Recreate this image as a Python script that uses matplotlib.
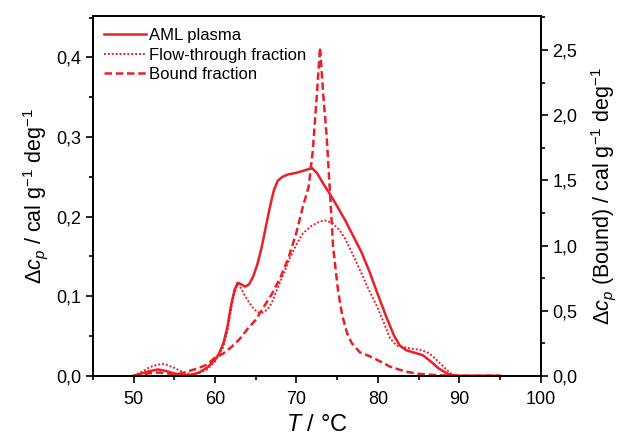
import numpy as np
import matplotlib
matplotlib.use("Agg")
from matplotlib import pyplot as plt
from matplotlib.ticker import MultipleLocator, FuncFormatter

plt.rcParams['font.family'] = ['Liberation Sans', 'DejaVu Sans']
plt.rcParams['mathtext.fontset'] = 'custom'
plt.rcParams['mathtext.rm'] = 'Liberation Sans'
plt.rcParams['mathtext.it'] = 'Liberation Sans:italic'

# AML plasma (left axis)
t_aml = [50, 51, 52, 53, 54, 55, 56, 57, 58, 59, 60, 60.5, 61, 61.5, 62, 62.4, 62.8,
         63.2, 63.7, 64.2, 64.7, 65.2, 65.7, 66.2, 66.7, 67.2, 67.7, 68.3, 69, 70, 71,
         71.9, 72.5, 73.2, 74, 75, 76, 77, 78, 79, 80, 81, 82, 82.7, 83.5, 84.5, 85.5,
         86.5, 87.5, 88.5, 89, 90, 92, 95]
cp_aml = [0, 0.003, 0.006, 0.008, 0.006, 0.003, 0.001, 0.001, 0.004, 0.01, 0.02, 0.028,
          0.04, 0.06, 0.09, 0.108, 0.117, 0.115, 0.112, 0.115, 0.125, 0.14, 0.16, 0.185,
          0.21, 0.232, 0.245, 0.25, 0.253, 0.255, 0.258, 0.261, 0.255, 0.243, 0.23, 0.213,
          0.195, 0.175, 0.155, 0.13, 0.102, 0.075, 0.05, 0.038, 0.032, 0.029, 0.026, 0.018,
          0.009, 0.003, 0.001, 0, 0, 0]

# flow-through fraction (left axis)
t_flow = [50, 51, 52, 53, 53.5, 54, 55, 56, 57, 58, 59, 60, 61, 61.5, 62, 62.4, 62.8,
          63.2, 63.7, 64.2, 64.7, 65.2, 65.6, 66, 66.5, 67, 67.6, 68.3, 69.2, 70, 70.8,
          71.8, 72.9, 73.6, 74.4, 75.3, 76, 76.8, 77.8, 78.8, 79.9, 80.8, 81.5, 82.3,
          83.6, 85, 86, 86.8, 87.6, 88.4, 89.2, 90, 95]
cp_flow = [0, 0.005, 0.011, 0.014, 0.015, 0.014, 0.01, 0.005, 0.002, 0.003, 0.008,
           0.018, 0.036, 0.055, 0.085, 0.105, 0.115, 0.11, 0.1, 0.092, 0.085, 0.08,
           0.079, 0.08, 0.084, 0.092, 0.108, 0.125, 0.148, 0.165, 0.179, 0.188, 0.194,
           0.195, 0.192, 0.183, 0.172, 0.155, 0.133, 0.11, 0.087, 0.065, 0.047, 0.038,
           0.035, 0.033, 0.03, 0.024, 0.016, 0.008, 0.001, 0, 0]

# bound fraction (right axis)
t_bound = [50, 51, 52, 53, 54, 55, 56, 57, 58, 59, 60, 61, 62, 63, 64, 65, 66, 67, 68,
           69, 70, 70.8, 71.5, 72, 72.5, 72.9, 73.3, 73.7, 74.1, 74.5, 75.1, 75.6, 76.2,
           76.8, 77.8, 79, 80.3, 81.5, 82.5, 83.6, 85, 86.5, 88, 90, 95]
cp_bound = [0, 0.01, 0.02, 0.025, 0.02, 0.01, 0.02, 0.04, 0.06, 0.085, 0.14, 0.17,
            0.22, 0.28, 0.36, 0.43, 0.53, 0.63, 0.75, 0.9, 1.1, 1.3, 1.45, 1.72, 2.15,
            2.52, 2.15, 1.85, 1.43, 0.99, 0.66, 0.47, 0.33, 0.25, 0.18, 0.15, 0.11, 0.07,
            0.05, 0.03, 0.015, 0.008, 0.003, 0, 0]

red = '#e82028'
comma = FuncFormatter(lambda v, p: ('%.1f' % v).replace('.', ','))

fig = plt.figure(figsize=(6.23, 4.37), dpi=100)
ax = fig.add_axes([0.149, 0.14, 0.719, 0.823])
ax2 = ax.twinx()

ax.plot(t_aml, cp_aml, color=red, lw=1.8, label='AML plasma')
ax.plot(t_flow, cp_flow, color=red, lw=1.4, ls=(0, (1, 1)), label='Flow-through fraction')
l3, = ax2.plot(t_bound, cp_bound, color=red, lw=1.8, ls=(0, (3, 1.5)), label='Bound fraction')

ax.set_xlim(45, 100)
ax.set_ylim(0, 0.4517)
ax2.set_ylim(0, 2.76)

ax.set_xticks([50, 60, 70, 80, 90, 100])
ax.xaxis.set_minor_locator(MultipleLocator(5))
ax.yaxis.set_major_locator(MultipleLocator(0.1))
ax.yaxis.set_minor_locator(MultipleLocator(0.05))
ax2.yaxis.set_major_locator(MultipleLocator(0.5))
ax2.yaxis.set_minor_locator(MultipleLocator(0.25))
ax.yaxis.set_major_formatter(comma)
ax2.yaxis.set_major_formatter(comma)

for a in (ax, ax2):
    a.tick_params(which='major', length=5, width=1.2, labelsize=13, direction='out')
    a.tick_params(which='minor', length=3, width=1.2, direction='out')
    for s in a.spines.values():
        s.set_linewidth(1.3)
ax.tick_params(axis='x', pad=6)

ax.set_xlabel(r'$T$ / °C', fontsize=17, labelpad=4)
ax.set_ylabel(r'$\Delta c_p$ / cal g$^{-1}$ deg$^{-1}$', fontsize=15.5, labelpad=4)
ax2.set_ylabel(r'$\Delta c_p$ (Bound) / cal g$^{-1}$ deg$^{-1}$', fontsize=15.5, labelpad=8)

h, l = ax.get_legend_handles_labels()
ax.legend(h + [l3], l + ['Bound fraction'], loc='upper left', frameon=False,
          fontsize=12, handlelength=2.5, handletextpad=0.2, labelspacing=0.28,
          borderaxespad=0.3)

fig.savefig('out.png', dpi=100)
